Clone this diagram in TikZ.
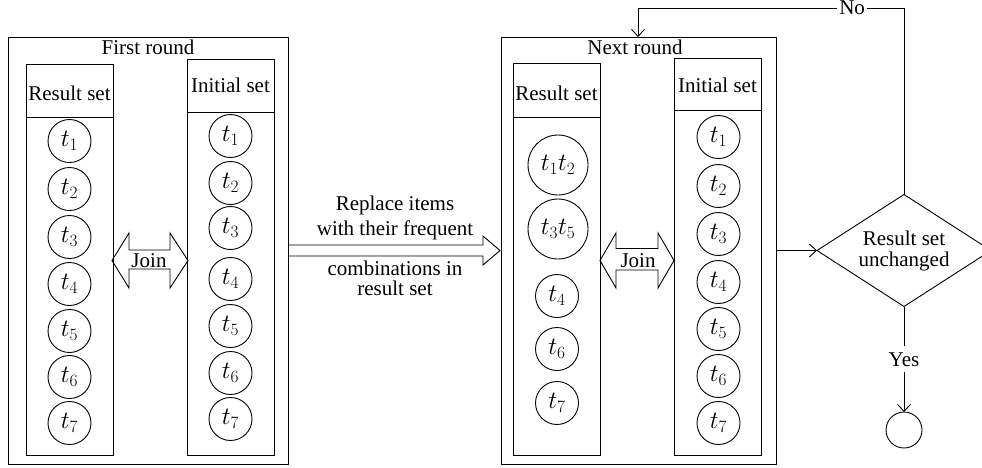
\documentclass[tikz,border=0pt]{standalone}
\usepackage{fontspec}
\setmainfont{Liberation Serif}
\usetikzlibrary{arrows.meta,shapes.geometric}
\begin{document}
\begin{tikzpicture}[x=1pt,y=-1pt,line width=0.9pt,
  box/.style={draw,rectangle,inner sep=0pt,outer sep=0pt,anchor=north west,minimum width=87pt},
  frame/.style={draw,rectangle,inner sep=0pt,outer sep=0pt,anchor=north west},
  lbl/.style={inner sep=0pt,anchor=base,font=\fontsize{21}{23}\selectfont},
  tc/.style={draw,circle,inner sep=0pt,outer sep=0pt,minimum size=43pt,font=\fontsize{23}{25}\selectfont},
  tcc/.style={draw,circle,inner sep=0pt,outer sep=0pt,minimum size=60pt,font=\fontsize{23}{25}\selectfont},
  arr/.style={-{Straight Barb[length=7pt,width=13pt]}},
  blockarrow/.style={draw,line join=miter}
]
\useasboundingbox (0,0) rectangle (982,467);

% ---------- First round ----------
\node[frame,minimum width=280pt,minimum height=427pt] (f1) at (8,37) {};
\node[lbl] (f1t) at (148,54) {First round};
\node[box,minimum height=53pt] (r1h) at (26,64) {};
\node[lbl] (r1ht) at (69.5,100) {Result set};
\node[box,minimum height=338pt] (r1c) at (26,117) {};
\node[box,minimum height=53pt] (i1h) at (187,59) {};
\node[lbl] (i1ht) at (230.5,92) {Initial set};
\node[box,minimum height=343pt] (i1c) at (187,112) {};

\foreach \k/\y in {1/141,2/189,3/237,4/284,5/331,6/377,7/423}
  \node[tc] (r1n\k) at (69.5,\y) {$t_{\k}$};
\foreach \k/\y in {1/136,2/183,3/228,4/279,5/326,6/373,7/419}
  \node[tc] (i1n\k) at (230.5,\y) {$t_{\k}$};

% Join arrow 1
\draw[blockarrow] (112,260.5) -- (129,233) -- (129,250) -- (170,250) -- (170,233)
  -- (188,260.5) -- (170,288) -- (170,269) -- (129,269) -- (129,288) -- cycle;
\node[lbl] (j1) at (149,267) {Join};

% Middle arrow
\draw[blockarrow] (f1.east |- 0,245) -- (483,245) -- (483,236) -- (500,250.5)
  -- (483,265) -- (483,256) -- (f1.east |- 0,256);
\node[lbl] (m1) at (395,210) {Replace items};
\node[lbl] (m2) at (395,235) {with their frequent};
\node[lbl] (m3) at (395,275) {combinations in};
\node[lbl] (m4) at (395,295) {result set};

% ---------- Next round ----------
\node[frame,minimum width=275pt,minimum height=427pt] (f2) at (501,37) {};
\node[lbl] (f2t) at (635,54) {Next round};
\node[box,minimum height=54pt] (r2h) at (513,63) {};
\node[lbl] (r2ht) at (556.5,100) {Result set};
\node[box,minimum height=338pt] (r2c) at (513,117) {};
\node[box,minimum height=52pt] (i2h) at (674,58) {};
\node[lbl] (i2ht) at (717.5,92) {Initial set};
\node[box,minimum height=345pt] (i2c) at (674,110) {};

\node[tcc] (r2a) at (558,165) {$t_1t_2$};
\node[tcc] (r2b) at (558,229) {$t_3t_5$};
\node[tc] (r2c4) at (557,296) {$t_4$};
\node[tc] (r2c6) at (557,349) {$t_6$};
\node[tc] (r2c7) at (557,403) {$t_7$};
\foreach \k/\y in {1/137,2/186,3/234,4/282,5/329,6/376,7/423}
  \node[tc] (i2n\k) at (718.5,\y) {$t_{\k}$};

% Join arrow 2
\draw[blockarrow] (600,260.5) -- (616,233) -- (616,248.5) -- (658,248.5) -- (658,233)
  -- (674,260.5) -- (658,288) -- (658,270) -- (616,270) -- (616,288) -- cycle;
\node[lbl] (j2) at (638,267) {Join};

% ---------- Decision ----------
\node[draw,diamond,inner sep=0pt,outer sep=0pt,minimum width=174pt,minimum height=112pt] (dec) at (904,250.5) {};
\node[lbl] (d1) at (904,245) {Result set};
\node[lbl] (d2) at (904,266) {unchanged};
\node[draw,circle,inner sep=0pt,outer sep=0pt,minimum size=36pt] (endc) at (904,430) {};

\draw[arr] (f2.east) -- (dec.west);
\coordinate (nr) at (904,8);
\coordinate (nl) at (638,8);
\draw[arr] (dec.north) -- (nr) -- node[lbl,anchor=center,fill=white,inner xsep=2pt,pos=0.195] (no) {No} (nl) -- (nl |- f2.north);
\draw[arr] (dec.south) -- node[lbl,anchor=center,fill=white,inner ysep=6pt,pos=0.5] (yes) {Yes} (endc.north);
\end{tikzpicture}
\end{document}
